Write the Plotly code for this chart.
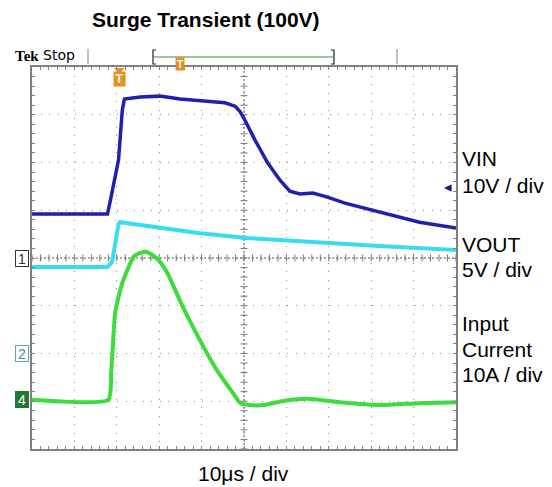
import numpy as np
import plotly.graph_objects as go

# ---- data (time in µs, 10 µs/div; traces in screen divisions, centre = 0) ----
vin_t = [0, 17.8, 18.5, 20.4, 21.3, 21.8, 25.5, 30.2, 34.9, 39.6, 45.5, 47.9, 49.1,
         50.2, 52.6, 55.6, 58.5, 60.8, 63.2, 66.2, 69.5, 73.8, 82.0, 91.4, 100]
vin_div = [0.92, 0.92, 1.21, 2.05, 3.10, 3.33, 3.37, 3.39, 3.33, 3.29, 3.25, 3.18, 3.06,
           2.89, 2.47, 1.99, 1.63, 1.40, 1.34, 1.36, 1.28, 1.15, 0.96, 0.75, 0.63]

vout_t = [0, 17.8, 18.9, 19.9, 20.4, 20.8, 27.9, 34.9, 39.6, 50.7, 63.2, 82.0, 100]
vout_div = [-0.19, -0.19, -0.08, 0.38, 0.71, 0.75, 0.67, 0.59, 0.52, 0.42, 0.35, 0.25, 0.17]

iin_t = [0, 18.0, 18.7, 19.6, 20.4, 21.3, 22.5, 23.9, 25.3, 26.7, 28.1, 29.8, 31.9,
         35.6, 39.6, 43.6, 46.2, 47.9, 49.1, 51.4, 54.5, 59.6, 64.8, 72.6, 82.0, 91.4, 100]
iin_div = [-2.97, -2.97, -2.35, -1.15, -0.82, -0.52, -0.25, 0.02, 0.10, 0.13, 0.08, -0.04, -0.31,
           -1.03, -1.72, -2.35, -2.68, -2.89, -3.04, -3.08, -3.08, -2.99, -2.95, -3.02, -3.08, -3.04, -3.02]

channel_labels = ["VIN", "10V / div", "VOUT", "5V / div", "Input", "Current", "10A / div"]
title_text = "Surge Transient (100V)"
time_label = "10μs / div"

# ---- layout geometry (page has an 8px body margin) ----
W, H = 536, 479
L, R, T, B = 24, 88, 59, 38
PW, PH = W - L - R, H - T - B


def px(x):  # page pixel -> paper x
    return (x - 32) / PW


def py(y):  # page pixel -> paper y
    return (449 - y) / PH


BLUE = "#1f1fb0"
CYAN = "#38dcef"
GREEN = "#3cdc3c"
ORANGE = "#e8901c"
GRID = "#8a8a8a"
FONT = "Liberation Sans, Arial"

fig = go.Figure()

# centre crosshair tick marks (graticule)
ct = np.arange(0, 10.001, 0.2)
fig.add_trace(go.Scatter(x=ct, y=[0] * len(ct), mode="markers",
                         marker=dict(symbol="line-ns", size=5, line=dict(width=1, color="#777")),
                         hoverinfo="skip", showlegend=False))
cy = np.arange(-4, 4.001, 0.2)
fig.add_trace(go.Scatter(x=[5] * len(cy), y=cy, mode="markers",
                         marker=dict(symbol="line-ew", size=5, line=dict(width=1, color="#777")),
                         hoverinfo="skip", showlegend=False))

# signals
fig.add_trace(go.Scatter(x=[t / 10 for t in vout_t], y=vout_div, mode="lines",
                         line=dict(color=CYAN, width=4), showlegend=False))
fig.add_trace(go.Scatter(x=[t / 10 for t in iin_t], y=iin_div, mode="lines",
                         line=dict(color=GREEN, width=4, shape="spline", smoothing=0.5),
                         showlegend=False))
fig.add_trace(go.Scatter(x=[t / 10 for t in vin_t], y=vin_div, mode="lines",
                         line=dict(color=BLUE, width=3.5), showlegend=False))

# channel markers on the left
fig.add_trace(go.Scatter(x=[-0.06, -0.06, -0.06], y=[0, -2, -2.97], mode="markers",
                         marker=dict(symbol="triangle-right", size=9,
                                     color=["#ffffff", "#ffffff", "#1e7a2e"],
                                     line=dict(width=1, color=["#333333", "#5aa8a8", "#1e7a2e"])),
                         cliponaxis=False, hoverinfo="skip", showlegend=False))
# trigger marker on top
fig.add_trace(go.Scatter(x=[2.06], y=[3.93], mode="markers",
                         marker=dict(symbol="triangle-down", size=9, color=ORANGE),
                         cliponaxis=False, hoverinfo="skip", showlegend=False))

annotations = []
for lab, yv, bc, bg, fc in [("1", 0, "#333333", "#ffffff", "#333333"),
                             ("2", -2, "#5aa8a8", "#ffffff", "#3a9090"),
                             ("4", -2.97, "#1e7a2e", "#1e7a2e", "#ffffff")]:
    annotations.append(dict(x=px(22), y=yv, xref="paper", yref="y", text=lab, showarrow=False,
                            font=dict(family=FONT, size=14, color=fc),
                            bgcolor=bg, bordercolor=bc, borderwidth=1, borderpad=0,
                            width=12, height=15, xanchor="center", yanchor="middle"))
# trigger "T" icon
annotations.append(dict(x=2.06, y=(258 - 79) / 47.75, xref="x", yref="y", text="<b>T</b>",
                        showarrow=False, font=dict(family=FONT, size=12, color="white"),
                        bgcolor=ORANGE, borderpad=0, width=11, height=14))

# title and texts
annotations.append(dict(x=px(206), y=py(20), xref="paper", yref="paper", text="<b>%s</b>" % title_text,
                        showarrow=False, font=dict(family=FONT, size=21, color="black"),
                        xanchor="center", yanchor="middle"))
for lab, ypos in zip(channel_labels, [158, 185, 244, 269, 323, 349, 374]):
    annotations.append(dict(x=px(460), y=py(ypos), xref="paper", yref="paper", text=lab,
                            showarrow=False, font=dict(family=FONT, size=21, color="black"),
                            xanchor="left", yanchor="middle"))
annotations.append(dict(x=px(243), y=py(473), xref="paper", yref="paper", text=time_label,
                        showarrow=False, font=dict(family=FONT, size=21, color="black"),
                        xanchor="center", yanchor="middle"))

# Tek header
annotations.append(dict(x=px(13), y=py(56), xref="paper", yref="paper", text="<b>Tek</b>",
                        showarrow=False, font=dict(family="Liberation Serif", size=15, color="black"),
                        xanchor="left", yanchor="middle"))
annotations.append(dict(x=px(41), y=py(55), xref="paper", yref="paper", text="Stop",
                        showarrow=False, font=dict(family="DejaVu Sans", size=14, color="black"),
                        xanchor="left", yanchor="middle"))
annotations.append(dict(x=px(180), y=py(57), xref="paper", yref="paper", text="<b>T</b>",
                        showarrow=False, font=dict(family=FONT, size=10, color="white"),
                        bgcolor=ORANGE, borderpad=0, width=8, height=12))
# VIN offset arrow on right
annotations.append(dict(x=px(444), y=py(188), xref="paper", yref="paper", ax=9, ay=0, text="",
                        showarrow=True, arrowhead=2, arrowsize=1, arrowwidth=1.5, arrowcolor="#1a1a80"))

shapes = []
for xx in (88, 397):
    shapes.append(dict(type="line", xref="paper", yref="paper", x0=px(xx), x1=px(xx),
                       y0=py(49), y1=py(64), line=dict(color="#aaaaaa", width=1.5)))
shapes.append(dict(type="line", xref="paper", yref="paper", x0=px(154), x1=px(333),
                   y0=py(57), y1=py(57), line=dict(color="#7fb07f", width=1.5)))
for xx, d in ((153, 1), (334, -1)):
    shapes.append(dict(type="path", xref="paper", yref="paper",
                       path="M %f %f L %f %f L %f %f L %f %f" % (px(xx + 3 * d), py(50), px(xx), py(50),
                                                                px(xx), py(64), px(xx + 3 * d), py(64)),
                       line=dict(color="#222222", width=1.2)))
# centre crosshair dotted lines
shapes.append(dict(type="line", xref="x", yref="y", x0=0, x1=10, y0=0, y1=0,
                   line=dict(color="#555555", width=1, dash="2px,2px"), layer="below"))
shapes.append(dict(type="line", xref="x", yref="y", x0=5, x1=5, y0=-4, y1=4,
                   line=dict(color="#555555", width=1, dash="2px,2px"), layer="below"))

axis_common = dict(dtick=1, showgrid=True, gridcolor=GRID, griddash="1px,7.5px", gridwidth=1,
                   zeroline=False, showticklabels=False, showline=True, linecolor="#808080", linewidth=2,
                   mirror="ticks", ticks="inside", ticklen=3, tickcolor="#808080",
                   minor=dict(dtick=0.2, ticks="inside", ticklen=3, tickcolor="#808080", showgrid=False))

fig.update_layout(
    width=W, height=H, margin=dict(l=L, r=R, t=T, b=B),
    paper_bgcolor="white", plot_bgcolor="white",
    annotations=annotations, shapes=shapes, showlegend=False,
    xaxis=dict(range=[0, 10], **axis_common),
    yaxis=dict(range=[-4, 4], **axis_common),
)

fig.write_html("out.html")
